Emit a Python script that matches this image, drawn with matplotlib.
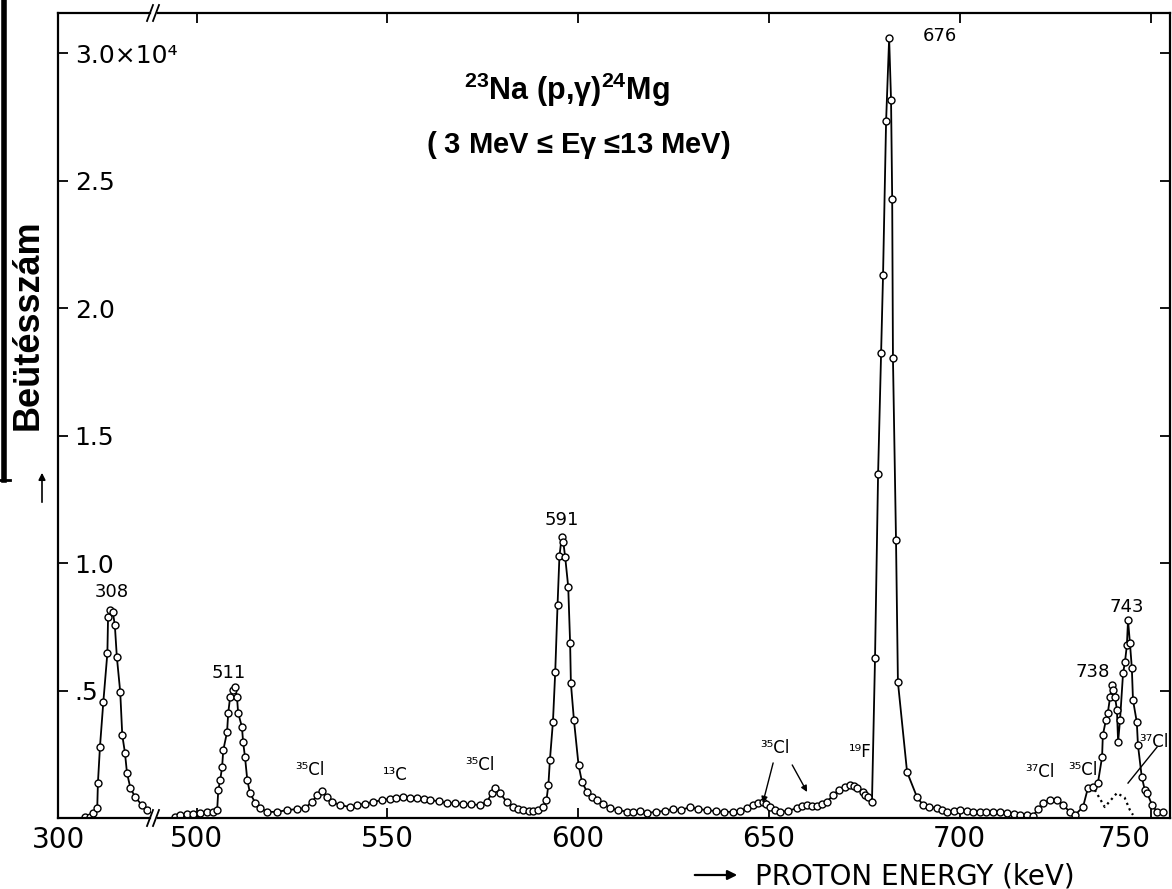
import matplotlib.pyplot as plt
from matplotlib.lines import Line2D

plt.rcParams['font.family'] = ['DejaVu Sans']
plt.rcParams['mathtext.fontset'] = 'custom'
plt.rcParams['mathtext.rm'] = 'Liberation Sans'
plt.rcParams['mathtext.it'] = 'Liberation Sans:italic'
plt.rcParams['mathtext.bf'] = 'Liberation Sans:bold'
plt.rcParams['mathtext.default'] = 'regular'

## data (proton energy in keV, counts)

# left piece of the broken axis: the 308 keV resonance
e_left = [304.0, 304.7, 305.2, 305.8, 305.9, 306.2, 306.7, 307.3, 307.4, 307.7, 308.1,
          308.4, 308.7, 309.2, 309.5, 309.9, 310.2, 310.7, 311.4, 312.4, 313.2]
n_left = [20, 40, 200, 390, 1370, 2780, 4550, 6470, 7880, 8150, 8080,
          7570, 6310, 4940, 3250, 2550, 1760, 1180, 820, 510, 310]

# right piece: 490 - 755 keV
e_right = [494.4, 495.7, 497.5, 499.1, 500.9, 502.8, 504.4, 505.4, 505.7, 506.2, 506.7,
           507.0, 508.0, 508.3, 508.8, 509.6, 510.1, 510.6, 510.9, 511.9, 512.2, 512.7,
           513.3, 514.0, 515.4, 516.7, 518.5, 521.1, 523.7, 526.3, 528.4, 530.3, 531.6,
           532.9, 534.2, 535.5, 537.6, 540.2, 542.1, 544.2, 546.3, 548.5, 550.7, 552.4,
           554.1, 556.0, 557.8, 559.5, 561.2, 563.5, 565.7, 567.8, 569.8, 572.0, 574.3,
           576.1, 577.4, 578.2, 579.5, 581.3, 582.9, 584.2, 585.6, 587.0, 588.2, 589.5,
           590.8, 591.7, 592.2, 592.6, 593.4, 594.0, 594.6, 595.1, 595.7, 596.1, 596.6,
           597.4, 597.9, 598.1, 598.9, 600.1, 601.0, 602.3, 603.6, 604.9, 606.5, 608.4,
           610.5, 612.7, 614.4, 616.2, 618.0, 620.5, 622.7, 624.9, 627.0, 629.3, 631.5,
           633.8, 636.0, 638.3, 640.6, 642.5, 644.3, 645.8, 647.1, 648.4, 649.3, 650.3,
           651.6, 652.9, 655.0, 657.4, 658.7, 660.0, 661.3, 662.6, 663.9, 665.2, 666.8,
           668.3, 669.9, 671.2, 672.2, 673.1, 674.6, 675.3, 676.0, 677.0, 677.8, 678.6,
           679.4, 679.9, 680.7, 681.5, 682.0, 682.3, 682.5, 683.3, 683.8, 686.2, 688.8,
           690.4, 692.0, 694.0, 695.3, 696.7, 698.5, 700.1, 702.0, 703.6, 705.3, 707.0,
           708.8, 710.5, 712.5, 714.2, 715.8, 717.5, 719.2, 720.5, 721.8, 723.7, 725.5,
           727.0, 728.9, 730.2, 732.3, 733.6, 734.9, 736.2, 737.3, 737.5, 738.3, 738.8,
           739.4, 739.9, 740.2, 740.7, 741.2, 741.5, 742.0, 742.8, 743.3, 743.8, 744.1,
           744.6, 745.1, 745.4, 746.4, 746.7, 747.7, 748.5, 749.1, 750.4, 751.7, 753.2]
n_right = [40, 120, 160, 160, 200, 240, 240, 310, 1100, 1490, 2000,
           2660, 3370, 4120, 4740, 5020, 5140, 4740, 4120, 3570, 2980, 2390,
           1490, 980, 590, 390, 240, 240, 310, 350, 390, 630, 900,
           1050, 820, 630, 510, 430, 510, 560, 630, 700, 750, 790,
           820, 800, 780, 740, 710, 650, 590, 570, 550, 530, 510,
           630, 980, 1180, 980, 630, 430, 350, 310, 290, 270, 300,
           430, 710, 1290, 2270, 3780, 5740, 8350, 10270, 11030, 10830, 10240,
           9070, 6850, 5280, 3840, 2080, 1420, 1030, 820, 710, 550, 380,
           310, 250, 240, 280, 200, 240, 280, 350, 310, 430, 350,
           310, 270, 240, 240, 280, 390, 510, 590, 630, 550, 430,
           310, 240, 280, 390, 470, 510, 470, 470, 550, 630, 900,
           1100, 1220, 1290, 1250, 1180, 1020, 900, 820, 630, 6270, 13480,
           18230, 21290, 27320, 30580, 28150, 24260, 18030, 10900, 5330, 1800, 820,
           510, 430, 390, 310, 240, 280, 310, 270, 240, 240, 240,
           240, 240, 200, 160, 120, 120, 80, 350, 590, 710, 710,
           510, 240, 120, 430, 1180, 1220, 1370, 2390, 3250, 3840, 4120,
           4740, 5210, 5020, 4740, 4230, 2980, 3840, 5680, 6120, 6780, 7760,
           6860, 5880, 4630, 3760, 2860, 1610, 1100, 980, 510, 240, 240]

# dotted 37Cl component under the 738/743 doublet
e_cl37 = [735.4, 738.0, 741.2, 743.2, 744.6, 745.4]
n_cl37 = [1100, 430, 980, 800, 310, 120]

# peak labels: (text, energy, counts)
labels_right = [('511', 508.3, 5680), ('591', 595.8, 11680), ('676', 694.8, 30650),
                ('738', 734.9, 5720), ('743', 743.8, 8270)]
isotopes = [('³⁵Cl', 529.7, 1880), ('¹³C', 552.0, 1690), ('³⁵Cl', 574.3, 2080),
            ('³⁵Cl', 651.6, 2740), ('¹⁹F', 673.9, 2590), ('³⁷Cl', 721.0, 1800),
            ('³⁵Cl', 732.3, 1880), ('³⁷Cl', 750.8, 2980)]

W, H = 1172, 889
fig = plt.figure(figsize=(W / 100, H / 100), dpi=100)


def fpos(x, y):
    # pixel position in the picture -> figure fraction
    return x / W, 1 - y / H


ax_l = fig.add_axes([58 / W, 1 - 818 / H, (150 - 58) / W, (818 - 13) / H])
ax_r = fig.add_axes([158 / W, 1 - 818 / H, (1170 - 158) / W, (818 - 13) / H], sharey=ax_l)
ax_r.patch.set_alpha(0)   # keep the y labels of the left piece visible

style = dict(color='black', lw=1.3, marker='o', ms=5, mfc='white', mec='black', mew=1.0)
ax_l.plot(e_left, n_left, **style)
ax_r.plot(e_right, n_right, **style)
ax_r.plot(e_cl37, n_cl37, color='black', lw=1.6, ls=':')

ax_l.set_xlim(300, 313.6)
ax_r.set_xlim(489.9, 755.1)
ax_l.set_ylim(0, 31570)

for ax in (ax_l, ax_r):
    for s in ax.spines.values():
        s.set_linewidth(1.6)
ax_l.spines['right'].set_visible(False)
ax_r.spines['left'].set_visible(False)

# y axis: ticks pointing in, labels sitting inside the frame
yt = [5000, 10000, 15000, 20000, 25000, 30000]
ax_l.set_yticks(yt)
ax_l.set_yticklabels(['.5', '1.0', '1.5', '2.0', '2.5', '3.0×10⁴'])
ax_l.tick_params(axis='y', direction='in', length=7, width=1.3, pad=-12, labelsize=18)
for t in ax_l.get_yticklabels():
    t.set_horizontalalignment('left')
ax_r.tick_params(axis='y', left=False, right=True, labelleft=False,
                 direction='in', length=7, width=1.3)

# x axes
ax_l.set_xticks([300])
ax_l.tick_params(axis='x', length=0, pad=6, labelsize=20)
ax_r.set_xticks([500, 550, 600, 650, 700, 750])
ax_r.tick_params(axis='x', direction='in', top=True, length=7, width=1.3, pad=5, labelsize=20)
ax_r.get_xticklabels()[-1].set_horizontalalignment('right')

# break marks
for yb in (818, 13):
    for xb in (150, 156):
        x0, y0 = fpos(xb - 3, yb + 8)
        x1, y1 = fpos(xb + 3, yb - 8)
        fig.add_artist(Line2D([x0, x1], [y0, y1], color='black', lw=1.3))

# labels on the peaks
ax_l.text(308.0, 8860, '308', ha='center', va='center', fontsize=13)
for s, x, y in labels_right:
    ax_r.text(x, y, s, ha='center', va='center', fontsize=13)
for s, x, y in isotopes:
    ax_r.text(x, y, s, ha='center', va='center', fontsize=12)

arr = dict(arrowstyle='-|>', color='black', lw=1.0, mutation_scale=9, shrinkA=0, shrinkB=0)
ax_r.annotate('', xy=(648.4, 590), xytext=(651.1, 2160), arrowprops=arr)
ax_r.annotate('', xy=(660.0, 1020), xytext=(656.1, 2080), arrowprops=arr)
ax_r.plot([751.7, 744.1], [2780, 1370], color='black', lw=1.0)

# title
ax_r.text(0.404, 0.905, r'$^{23}$Na (p,$\gamma$)$^{24}$Mg', transform=ax_r.transAxes,
          ha='center', va='center', fontsize=22, fontweight='bold', family='Liberation Sans')
ax_r.text(0.415, 0.836, r'( 3 MeV ≤ E$\gamma$ ≤13 MeV)', transform=ax_r.transAxes,
          ha='center', va='center', fontsize=21, fontweight='bold', family='Liberation Sans')

# axis titles
fig.text(*fpos(28, 325), 'Beütésszám', rotation=90, ha='center', va='center',
         fontsize=26, fontweight='bold', family='Liberation Sans')
fig.add_artist(Line2D([4 / W, 4 / W], [1, 1 - 480 / H], color='black', lw=4))
fig.add_artist(Line2D([0, 10 / W], [1 - 480 / H, 1 - 480 / H], color='black', lw=2))
fig.add_artist(plt.Annotation('', xy=fpos(42, 470), xytext=fpos(42, 505), xycoords='figure fraction',
                              arrowprops=dict(arrowstyle='-|>', color='black', lw=1.2,
                                              mutation_scale=10)))

fig.text(*fpos(755, 876), 'PROTON ENERGY (keV)', ha='left', va='center', fontsize=20)
fig.add_artist(plt.Annotation('', xy=fpos(740, 875), xytext=fpos(692, 875), xycoords='figure fraction',
                              arrowprops=dict(arrowstyle='-|>', color='black', lw=1.6,
                                              mutation_scale=14)))

fig.savefig('out.png', dpi=100)
